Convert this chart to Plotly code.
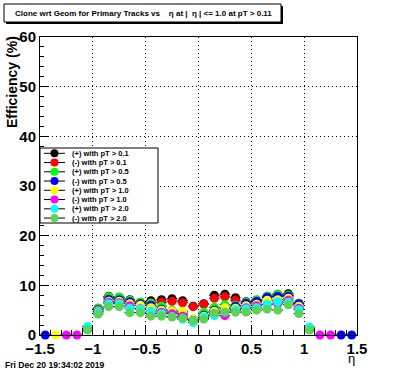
import plotly.graph_objects as go

eta = [-1.45, -1.35, -1.25, -1.15, -1.05, -0.95, -0.85, -0.75, -0.65, -0.55,
       -0.45, -0.35, -0.25, -0.15, -0.05, 0.05, 0.15, 0.25, 0.35, 0.45,
       0.55, 0.65, 0.75, 0.85, 0.95, 1.05, 1.15, 1.25, 1.35, 1.45]

N = None
pos_pt01 = [N, N, N, N, 1.3, 5.4, 7.8, 7.6, 7.1, 6.6, 6.9, 7.1, 7.3, 6.9, 5.8, 6.3, 8.0, 8.2, 7.5, 6.7, 7.0, 7.8, 8.2, 8.3, 6.4, 1.2, N, N, N, N]
neg_pt01 = [N, N, N, N, 1.2, 5.2, 7.5, 7.3, 6.8, 6.4, 6.5, 6.6, 6.8, 6.5, 5.7, 6.2, 7.4, 7.7, 7.0, 6.4, 6.6, 7.5, 7.9, 8.0, 6.2, 1.2, N, N, N, N]
pos_pt05 = [N, N, N, N, 1.4, 5.4, 7.7, 7.6, 7.0, 6.6, 6.4, 5.8, 5.0, 4.6, 3.2, 4.6, 5.6, 6.1, 6.0, 6.6, 7.1, 7.8, 8.2, 8.0, 6.4, 1.4, N, N, N, N]
neg_pt05 = [0.0, N, N, N, 1.3, 5.1, 7.2, 7.1, 6.7, 6.3, 6.0, 5.2, 4.6, 4.2, 3.0, 4.0, 5.0, 5.3, 5.8, 6.4, 6.8, 7.6, 7.8, 7.8, 6.3, 1.3, N, N, 0.0, 0.0]
pos_pt10 = [N, 0.0, N, N, 1.2, 4.9, 6.8, 6.8, 6.3, 6.0, 5.5, 5.0, 4.8, 4.8, 3.1, 3.8, 4.8, 5.5, 5.4, 5.9, 6.2, 7.0, 7.1, 7.4, 5.8, 1.2, N, N, N, N]
neg_pt10 = [N, N, 0.0, 0.0, 1.1, 4.7, 6.6, 6.5, 5.9, 5.3, 4.3, 4.6, 4.3, 3.8, 2.9, 3.4, 4.3, 3.9, 4.9, 5.5, 5.9, 6.1, 6.3, 7.0, 5.4, 1.1, 0.0, 0.0, N, N]
pos_pt20 = [N, N, N, N, 1.7, 4.6, 6.3, 6.3, 5.4, 5.2, 4.8, 4.3, 3.7, 3.2, 2.5, 3.6, 3.9, 4.6, 5.1, 5.3, 5.5, 6.2, 6.7, 6.6, 5.1, 1.6, N, N, N, N]
neg_pt20 = [N, N, N, N, 1.0, 4.2, 5.7, 5.7, 4.5, 4.5, 3.8, 3.8, 3.6, 3.4, 2.9, 3.2, 4.4, 4.6, 4.6, 4.6, 5.0, 5.2, 5.0, 6.1, 4.3, 1.0, N, N, N, N]

series_names = ["(+) with pT > 0.1", "(-) with pT > 0.1", "(+) with pT > 0.5", "(-) with pT > 0.5",
                "(+) with pT > 1.0", "(-) with pT > 1.0", "(+) with pT > 2.0", "(-) with pT > 2.0"]
series_vals = [pos_pt01, neg_pt01, pos_pt05, neg_pt05, pos_pt10, neg_pt10, pos_pt20, neg_pt20]
colors = ["#000000", "#ff0000", "#00ff00", "#0000ff", "#ffff00", "#ff00ff", "#00ffff", "#59d454"]

x_ticks = [-1.5, -1, -0.5, 0, 0.5, 1, 1.5]
x_ticklabels = ["\u22121.5", "\u22121", "\u22120.5", "0", "0.5", "1", "1.5"]
y_ticks = [0, 10, 20, 30, 40, 50, 60]

title_text = "Clone wrt Geom for Primary Tracks vs \u00a0\u00a0\u00a0\u03b7 at | \u00a0\u03b7 | <= 1.0 at pT > 0.11"
date_text = "Fri Dec 20 19:34:02 2019"

W, H = 396, 372
L, R, T, B = 40, 357, 37, 335


def px(x):
    return (x - L) / (R - L)


def py(y):
    return (B - y) / (B - T)


FONT = "Liberation Sans"

fig = go.Figure()
half = 0.05
for name, vals, col in zip(series_names, series_vals, colors):
    xs = [e for e, v in zip(eta, vals) if v is not None]
    ys = [v for v in vals if v is not None]
    fig.add_trace(go.Scatter(
        x=xs, y=ys, mode="markers", name=name, showlegend=False,
        cliponaxis=False, hoverinfo="skip",
        marker=dict(symbol="circle", size=9, color=col, line=dict(width=0)),
        error_x=dict(type="constant", value=half, color="black", thickness=1, width=0),
    ))

shapes = []
annotations = []

# title box with shadow
shapes.append(dict(type="rect", xref="paper", yref="paper",
                   x0=px(6), x1=px(283), y0=py(24), y1=py(6),
                   line=dict(width=0), fillcolor="black", layer="above"))
shapes.append(dict(type="rect", xref="paper", yref="paper",
                   x0=px(4), x1=px(281), y0=py(22), y1=py(4),
                   line=dict(width=1, color="black"), fillcolor="white", layer="above"))
annotations.append(dict(text="<b>" + title_text + "</b>", xref="paper", yref="paper",
                        x=px(13), y=py(13.5), xanchor="left", yanchor="middle", showarrow=False,
                        font=dict(family=FONT, size=8, color="black")))

# legend box
lx0, lx1, ly0, ly1 = 40, 158, 148, 223
shapes.append(dict(type="rect", xref="paper", yref="paper",
                   x0=px(lx0), x1=px(lx1), y0=py(ly1), y1=py(ly0),
                   line=dict(width=1, color="black"), fillcolor="white", layer="above"))
for i, (name, col) in enumerate(zip(series_names, colors)):
    yc = 153.3 + i * 9.25
    shapes.append(dict(type="line", xref="paper", yref="paper",
                       x0=px(44), x1=px(65), y0=py(yc), y1=py(yc),
                       line=dict(width=1, color="black"), layer="above"))
    shapes.append(dict(type="circle", xref="paper", yref="paper",
                       xsizemode="pixel", ysizemode="pixel",
                       xanchor=px(54.5), yanchor=py(yc),
                       x0=-4, x1=4, y0=-4, y1=4,
                       line=dict(width=0), fillcolor=col, layer="above"))
    annotations.append(dict(text="<b>" + name + "</b>", xref="paper", yref="paper",
                            x=px(70), y=py(yc), xanchor="left", yanchor="middle", showarrow=False,
                            font=dict(family=FONT, size=7.5, color="black")))

# axis titles
annotations.append(dict(text="<b>Efficiency (%)</b>", xref="paper", yref="paper",
                        x=px(12), y=py(82), xanchor="center", yanchor="middle", textangle=-90,
                        showarrow=False, font=dict(family=FONT, size=14, color="black")))
annotations.append(dict(text="\u03b7", xref="paper", yref="paper",
                        x=px(351), y=py(359), xanchor="center", yanchor="middle",
                        showarrow=False, font=dict(family=FONT, size=13, color="black")))
annotations.append(dict(text="<b>" + date_text + "</b>", xref="paper", yref="paper",
                        x=px(3), y=py(365), xanchor="left", yanchor="middle",
                        showarrow=False, font=dict(family=FONT, size=8.6, color="black")))

fig.update_layout(
    width=W, height=H,
    margin=dict(l=L, r=W - R, t=T, b=H - B, pad=0, autoexpand=False),
    paper_bgcolor="white", plot_bgcolor="white",
    showlegend=False, hovermode=False,
    shapes=shapes, annotations=annotations,
    font=dict(family=FONT, color="black"),
)
fig.update_xaxes(
    range=[-1.5, 1.5], tickmode="array", tickvals=x_ticks, ticktext=x_ticklabels,
    ticks="inside", ticklen=10, tickwidth=1, tickcolor="black",
    minor=dict(ticks="inside", ticklen=5, dtick=0.1, tickcolor="black", showgrid=False),
    showline=True, linecolor="black", linewidth=1, mirror=True,
    showgrid=True, gridcolor="black", griddash="1px,3px", gridwidth=1,
    zeroline=False, automargin=False,
    tickfont=dict(family=FONT, size=15, color="black", weight="bold"),
)
fig.update_yaxes(
    range=[0, 60], tickmode="array", tickvals=y_ticks,
    ticks="inside", ticklen=8, tickwidth=1, tickcolor="black",
    minor=dict(ticks="inside", ticklen=4, dtick=2, tickcolor="black", showgrid=False),
    showline=True, linecolor="black", linewidth=1, mirror=True,
    showgrid=True, gridcolor="black", griddash="1px,3px", gridwidth=1,
    zeroline=False, automargin=False,
    tickfont=dict(family=FONT, size=15, color="black", weight="bold"),
)

fig.write_html("out.html", config={"displayModeBar": False, "staticPlot": True},
               post_script="document.body.style.margin='0px';")
